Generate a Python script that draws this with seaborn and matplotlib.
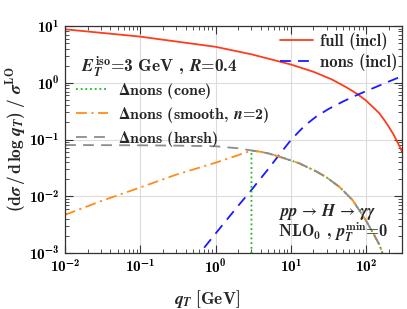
import matplotlib
matplotlib.use("Agg")
import numpy as np
import matplotlib.pyplot as plt
import seaborn as sns
from matplotlib.ticker import LogLocator, NullFormatter, FuncFormatter

# --------------------------------
# data (q_T in GeV, ratio to sigma_LO)
# --------------------------------
full_q = [0.01, 0.03, 0.1, 0.3, 1, 3, 10, 20, 35, 54, 77, 99, 125, 150, 175, 200, 230, 260, 280, 300]
full_v = [8.75, 7.59, 6.5, 5.33, 4.3, 3.17, 2.1, 1.56, 1.146, 0.84, 0.63, 0.49, 0.366, 0.29, 0.219,
          0.168, 0.124, 0.091, 0.0746, 0.061]

nons_q = [0.5, 0.62, 1, 2, 3, 3.87, 5, 6.4, 9.6, 12.6, 15.8, 21.7, 31.6, 50, 77, 126, 200, 273, 300]
nons_v = [7e-4, 1e-3, 2.2e-3, 6.8e-3, 0.0129, 0.0197, 0.030, 0.046, 0.091, 0.135, 0.182, 0.253,
          0.344, 0.471, 0.614, 0.81, 1.05, 1.24, 1.30]

harsh_q = [0.01, 0.1, 0.3, 1, 2, 3, 3.87, 5, 7, 9.6, 13, 17, 21.7, 30, 44, 66, 99, 130, 150, 165, 175]
harsh_v = [0.080, 0.079, 0.078, 0.076, 0.070, 0.064, 0.061, 0.057, 0.050, 0.0435, 0.038, 0.032,
           0.0275, 0.0214, 0.0147, 0.0086, 0.0038, 0.0020, 0.0014, 0.0010, 0.0007]

smooth_q = [0.01, 0.03, 0.1, 0.3, 1, 2] + harsh_q[5:]
smooth_v = [0.0047, 0.0082, 0.0143, 0.024, 0.039, 0.053] + harsh_v[5:]

cone_q = [3] + harsh_q[5:]
cone_v = [1e-4] + harsh_v[5:]

sns.set_style("ticks")
plt.rcParams.update({
    "font.family": "cmb10",
    "mathtext.fontset": "custom",
    "mathtext.rm": "cmb10",
    "mathtext.bf": "cmb10",
    "mathtext.it": "STIXGeneral:italic:bold",
    "mathtext.bfit": "STIXGeneral:italic:bold",
    "mathtext.sf": "STIXGeneral:bold",
    "mathtext.fallback": "stix",
    "axes.unicode_minus": False,
    "axes.formatter.use_mathtext": True,
})


def pow10(v, pos):
    e = int(round(np.log10(v)))
    ex = r"\mathsf{-}%d" % -e if e < 0 else "%d" % e
    return r"$10^{%s}$" % ex


fig = plt.figure(figsize=(4.07, 3.09), dpi=100)
ax = fig.add_axes([65 / 407, 1 - 253 / 309, 337 / 407, 227 / 309])

l_full = sns.lineplot(x=full_q, y=full_v, ax=ax, color="#ff3c1e", lw=1.3,
                      estimator=None, sort=False).lines[-1]
l_nons = sns.lineplot(x=nons_q, y=nons_v, ax=ax, color="#1a1aff", lw=1.3,
                      ls=(0, (6, 4)), estimator=None, sort=False).lines[-1]
l_cone = sns.lineplot(x=cone_q, y=cone_v, ax=ax, color="#22b822", lw=1.3,
                      ls=(0, (1, 1.6)), estimator=None, sort=False).lines[-1]
l_smooth = sns.lineplot(x=smooth_q, y=smooth_v, ax=ax, color="#ff8c1a", lw=1.3,
                        ls=(0, (6, 2.5, 1.2, 2.5)), estimator=None, sort=False).lines[-1]
l_harsh = sns.lineplot(x=harsh_q, y=harsh_v, ax=ax, color="#8c8c8c", lw=1.3,
                       ls=(0, (6, 4)), estimator=None, sort=False).lines[-1]

ax.set_xscale("log")
ax.set_yscale("log")
ax.set_xlim(1e-2, 300)
ax.set_ylim(1e-3, 1e1)

ax.grid(True, which="major", color="#dcdcdc", lw=0.8)
ax.xaxis.set_minor_locator(LogLocator(subs=range(2, 10), numticks=20))
ax.yaxis.set_minor_locator(LogLocator(subs=range(2, 10), numticks=20))
ax.xaxis.set_major_formatter(FuncFormatter(pow10))
ax.yaxis.set_major_formatter(FuncFormatter(pow10))
ax.xaxis.set_minor_formatter(NullFormatter())
ax.yaxis.set_minor_formatter(NullFormatter())
ax.tick_params(which="both", direction="in", top=True, right=True, colors="#333333",
               labelcolor="black", labelsize=11)
ax.tick_params(which="major", length=6, width=0.8, pad=4)
ax.tick_params(which="minor", length=3, width=0.6)
for s in ax.spines.values():
    s.set_color("#333333")
    s.set_linewidth(0.9)

ax.set_xlabel(r"$q_T\ [\mathrm{GeV}]$", fontsize=12.5)
ax.xaxis.set_label_coords((207 - 65) / 337, -0.155)
ax.set_ylabel(r"$(\mathrm{d}\sigma\,/\,\mathrm{d}\,\log\,q_T)\ /\ \sigma^{\mathrm{LO}}$", fontsize=12.5)
ax.yaxis.set_label_coords((28 - 65) / 337, 0.5)

leg1 = ax.legend([l_full, l_nons], ["full (incl)", "nons (incl)"],
                 loc="upper right", bbox_to_anchor=(398 / 407, 1 - 32 / 309),
                 bbox_transform=fig.transFigure, frameon=False, fontsize=12,
                 handlelength=2.0, handletextpad=0.45, labelspacing=0.25,
                 borderpad=0, borderaxespad=0)
ax.add_artist(leg1)
ax.legend([l_cone, l_smooth, l_harsh],
          [r"$\mathbf{\Delta}$nons (cone)",
           r"$\mathbf{\Delta}$nons (smooth, $n$=2)",
           r"$\mathbf{\Delta}$nons (harsh)"],
          loc="upper left", bbox_to_anchor=(76 / 407, 1 - 81 / 309),
          bbox_transform=fig.transFigure, frameon=False, fontsize=11.5,
          handlelength=2.0, handletextpad=0.6, labelspacing=0.25,
          borderpad=0, borderaxespad=0)

fig.text(81 / 407, 1 - 67 / 309, r"$E_T^{\mathrm{iso}}$=3 GeV , $R$=0.4",
         fontsize=12.5, va="center", ha="left")
fig.text(278 / 407, 1 - 212 / 309, r"$pp\,\rightarrow\,H\,\rightarrow\,\gamma\gamma$",
         fontsize=12, va="center", ha="left")
fig.text(278 / 407, 1 - 232 / 309, r"NLO$_0$ , $p_T^{\mathrm{min}}$=0",
         fontsize=12, va="center", ha="left")

fig.savefig("out.png", dpi=100)
